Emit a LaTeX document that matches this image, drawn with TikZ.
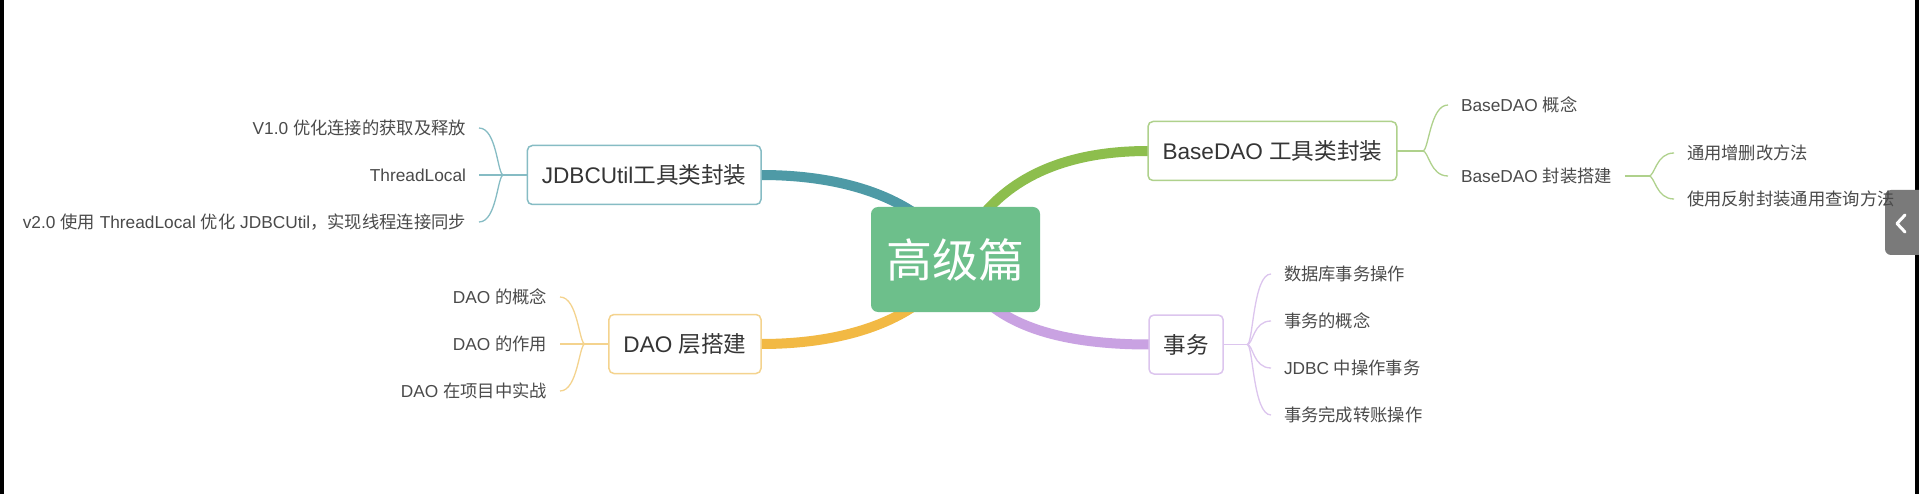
\documentclass[tikz,border=0pt]{standalone}
\usepackage{fontspec}
\setmainfont{Liberation Sans}
\newfontfamily\cjk{Noto Sans CJK SC}
\newcommand\zhs[1]{{\cjk #1}}
\usetikzlibrary{calc,backgrounds}
\definecolor{tealc}{HTML}{4E9AA6}
\definecolor{tealb}{HTML}{86BCC4}
\definecolor{greenc}{HTML}{8DBE4D}
\definecolor{greenb}{HTML}{AFD18C}
\definecolor{yelc}{HTML}{F2B944}
\definecolor{yelb}{HTML}{F4D38E}
\definecolor{purc}{HTML}{C9A2E2}
\definecolor{purb}{HTML}{DCC5EE}
\definecolor{rootc}{HTML}{6DBF8B}
\definecolor{maintext}{HTML}{353535}
\definecolor{leaftext}{HTML}{4A4A4A}
\definecolor{tabgray}{HTML}{7A7A7A}
\begin{document}
\begin{tikzpicture}[x=1pt,y=-1pt,
  every node/.style={inner sep=0pt, outer sep=0pt},
  rootbox/.style={fill=rootc, rounded corners=7pt, minimum width=169pt, minimum height=105pt, text=white, font=\cjk\fontsize{46}{55}\selectfont},
  mainbox/.style={draw=#1, line width=1.5pt, fill=white, rounded corners=5pt, minimum height=59pt, inner xsep=14.5pt, text=maintext, font=\fontsize{22.6}{27}\selectfont},
  leaf/.style={inner xsep=13pt, text=leaftext, font=\fontsize{17.3}{21}\selectfont},
  branch/.style={draw=#1, line width=10pt},
  twig/.style={draw=#1, line width=1.3pt},
]
\useasboundingbox (0,0) rectangle (1919,494);
% root and main nodes
\node[rootbox] (root) at (955.5,259.5) {高级篇};
\node[mainbox=tealb, anchor=east] (jdbc) at (761,175) {JDBCUtil\zhs{工具类封装}};
\node[mainbox=yelb, anchor=east] (dao) at (761,344) {DAO \zhs{层搭建}};
\node[mainbox=greenb, anchor=west] (base) at (1148,151) {BaseDAO \zhs{工具类封装}};
\node[mainbox=purb, anchor=west] (sw) at (1149,344.5) {\zhs{事务}};
% leaves: JDBCUtil
\node[leaf, anchor=east] (j1) at (479,128) {V1.0 \zhs{优化连接的获取及释放}};
\node[leaf, anchor=east] (j2) at (479,175) {ThreadLocal};
\node[leaf, anchor=east] (j3) at (479,222) {v2.0 \zhs{使用} ThreadLocal \zhs{优化} JDBCUtil\zhs{，实现线程连接同步}};
% leaves: DAO
\node[leaf, anchor=east] (d1) at (560,297) {DAO \zhs{的概念}};
\node[leaf, anchor=east] (d2) at (560,344) {DAO \zhs{的作用}};
\node[leaf, anchor=east] (d3) at (560,391) {DAO \zhs{在项目中实战}};
% leaves: BaseDAO
\node[leaf, anchor=west] (b1) at (1448,105) {BaseDAO \zhs{概念}};
\node[leaf, anchor=west] (b2) at (1448,176) {BaseDAO \zhs{封装搭建}};
\node[leaf, anchor=west] (b21) at (1674,153) {\zhs{通用增删改方法}};
\node[leaf, anchor=west] (b22) at (1674,199) {\zhs{使用反射封装通用查询方法}};
% leaves: 事务
\node[leaf, anchor=west] (s1) at (1271,274) {\zhs{数据库事务操作}};
\node[leaf, anchor=west] (s2) at (1271,321) {\zhs{事务的概念}};
\node[leaf, anchor=west] (s3) at (1271,368) {JDBC \zhs{中操作事务}};
\node[leaf, anchor=west] (s4) at (1271,415) {\zhs{事务完成转账操作}};
% junctions
\coordinate (jJ) at ($(jdbc.west)+(-24,0)$);
\coordinate (jD) at ($(dao.west)+(-24,0)$);
\coordinate (jB) at ($(base.east)+(26,0)$);
\coordinate (jB2) at ($(b2.east)+(24,0)$);
\coordinate (jS) at ($(sw.east)+(24,0)$);
\begin{scope}[on background layer]
  \fill[white] (0,0) rectangle (1919,494);
  \fill[black] (0,0) rectangle (3.5,494);
  \fill[black] (1915,0) rectangle (1919,494);
  \fill[tabgray, rounded corners=6pt] (1885,190) rectangle (1935,255);
  \draw[white, line width=3pt, line cap=round, line join=round] (1905,215) -- (1897,223.5) -- (1905,232);
  \draw[branch=tealc] (jdbc.east) .. controls +(110,0) and +(-20,-45) .. (root.center);
  \draw[branch=yelc] (dao.east) .. controls +(110,0) and +(-20,45) .. (root.center);
  \draw[branch=greenc] (base.west) .. controls +(-128,0) and +(20,-45) .. (root.center);
  \draw[branch=purc] (sw.west) .. controls +(-128,0) and +(20,45) .. (root.center);
\end{scope}
% twigs
\draw[twig=tealb] (jdbc.west) -- (jJ);
\foreach \n in {j1,j2,j3} \draw[twig=tealb] (jJ) .. controls +(-6,0) and +(18,0) .. (\n.east);
\draw[twig=yelb] (dao.west) -- (jD);
\foreach \n in {d1,d2,d3} \draw[twig=yelb] (jD) .. controls +(-6,0) and +(18,0) .. (\n.east);
\draw[twig=greenb] (base.east) -- (jB);
\foreach \n in {b1,b2} \draw[twig=greenb] (jB) .. controls +(6,0) and +(-18,0) .. (\n.west);
\draw[twig=greenb] (b2.east) -- (jB2);
\foreach \n in {b21,b22} \draw[twig=greenb] (jB2) .. controls +(6,0) and +(-18,0) .. (\n.west);
\draw[twig=purb] (sw.east) -- (jS);
\foreach \n in {s1,s2,s3,s4} \draw[twig=purb] (jS) .. controls +(6,0) and +(-18,0) .. (\n.west);
\end{tikzpicture}
\end{document}
